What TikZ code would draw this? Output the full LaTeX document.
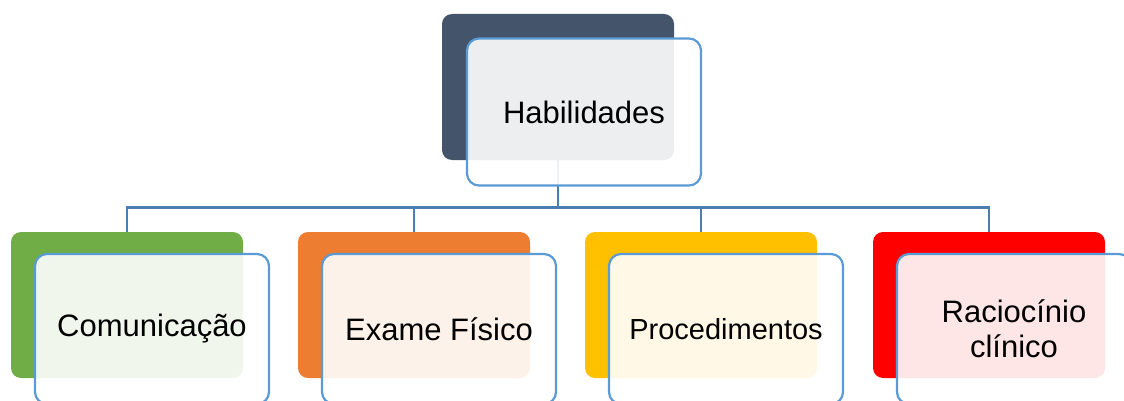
\documentclass[tikz,border=0pt]{standalone}
\usepackage{fontspec}
\setmainfont{Liberation Sans}
\usepackage{tikz}
\usetikzlibrary{positioning}
\definecolor{fundoHab}{RGB}{68,84,106}
\definecolor{fundoCom}{RGB}{112,173,71}
\definecolor{fundoExa}{RGB}{237,125,49}
\definecolor{fundoPro}{RGB}{255,192,0}
\definecolor{fundoRac}{RGB}{255,0,0}
\definecolor{bordaAzul}{RGB}{91,155,213}
\definecolor{linhaAzul}{RGB}{74,126,176}
\tikzset{
  fundo/.style={rectangle, rounded corners=10pt, minimum width=232pt, minimum height=146pt, inner sep=0pt},
  frente/.style={rectangle, rounded corners=12pt, draw=bordaAzul, line width=2.2pt, fill=white, fill opacity=0.9, text opacity=1, minimum width=234pt, minimum height=147pt, inner sep=0pt, align=center, font=\fontsize{31}{35}\selectfont},
  conector/.style={draw=linhaAzul, line width=2.6pt}
}

\begin{document}
\begin{tikzpicture}[x=1pt,y=-1pt]
\clip (0,0) rectangle (1124,401);
\useasboundingbox (0,0) rectangle (1124,401);
% caixas de fundo
\node[fundo, fill=fundoHab] (habb) at (558,87) {};
\node[fundo, fill=fundoCom] (comb) at (127,305) {};
\node[fundo, fill=fundoExa] (exab) at (414,305) {};
\node[fundo, fill=fundoPro] (prob) at (701,305) {};
\node[fundo, fill=fundoRac] (racb) at (989,305) {};
% ligacoes
\coordinate (barra) at ([yshift=-47pt]habb.south);
\draw[conector] (habb.south) -- (barra);
\draw[conector] (barra) -| (comb.north);
\draw[conector] (barra) -| (exab.north);
\draw[conector] (barra) -| (prob.north);
\draw[conector] (barra) -| (racb.north);
% caixas da frente
\node[frente] (hab) at ([xshift=26pt,yshift=-25pt]habb) {Habilidades};
\node[frente, minimum height=150pt] (com) at ([xshift=25pt,yshift=-24pt]comb) {Comunicação};
\node[frente, minimum height=150pt] (exa) at ([xshift=25pt,yshift=-24pt]exab) {Exame Físico};
\node[frente, minimum height=150pt, font=\fontsize{29}{33}\selectfont] (pro) at ([xshift=25pt,yshift=-24pt]prob) {Procedimentos};
\node[frente, minimum height=150pt] (rac) at ([xshift=25pt,yshift=-24pt]racb) {Raciocínio\\clínico};
\end{tikzpicture}
\end{document}
